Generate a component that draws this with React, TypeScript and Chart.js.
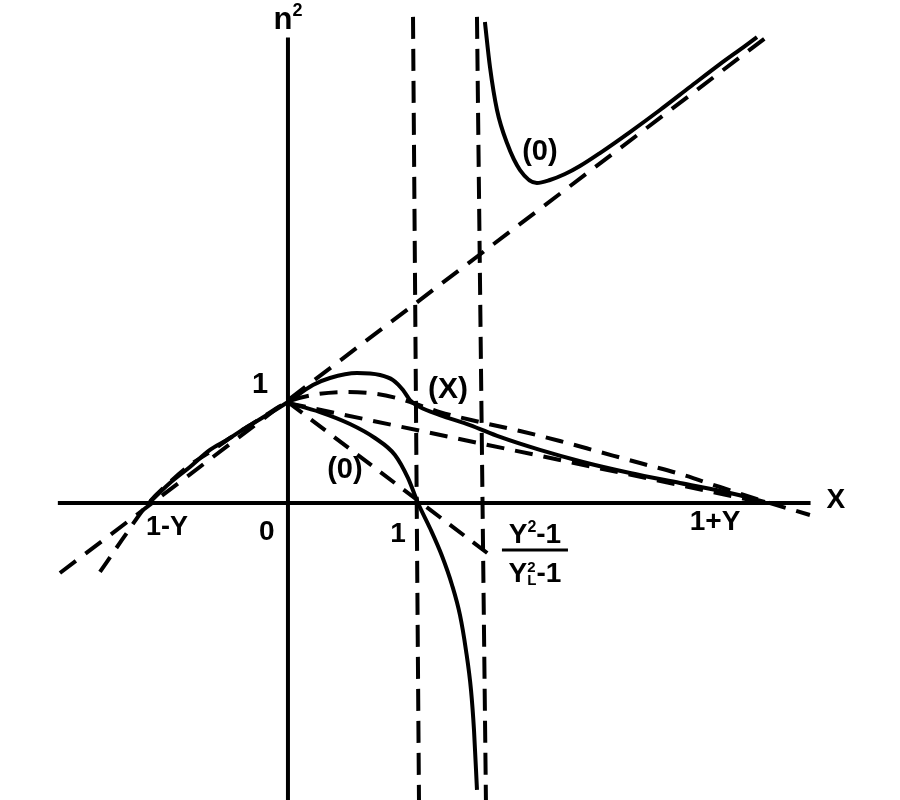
import { useEffect, useRef } from 'react';
import Chart from 'chart.js/auto';

// visible window in X and n² units
const xRange = [-2.215, 4.708];
const yRange = [-2.884, 4.884];

// axes
const horizAxisX = [-1.77, 4.02];
const horizAxisY = [0, 0];
const vertAxisX = [0, 0];
const vertAxisY = [4.52, -2.9];

// resonance / cut-off verticals
const res1X = [0.962, 1.008];
const res1Y = [4.72, -2.9];
const res2X = [1.454, 1.523];
const res2Y = [4.72, -2.9];

// straight dashed guides
const asymX = [-1.754, 3.692];
const asymY = [-0.68, 4.534];
const tangX = [0, 1.6];
const tangY = [0.98, -0.55];
const chordX = [0, 3.67];
const chordY = [0.97, 0.0];

// (X) mode, solid
const modeXX = [-1.085, -0.908, -0.754, -0.6, -0.469, -0.315, -0.162, 0, 0.192, 0.323, 0.531, 0.708, 0.808, 0.885, 0.938, 1.015, 1.169, 1.4, 1.631, 1.938, 2.269, 2.631, 3.015, 3.4, 3.669];
const modeXN2 = [-0.019, 0.194, 0.35, 0.515, 0.612, 0.738, 0.854, 0.981, 1.146, 1.214, 1.262, 1.243, 1.194, 1.097, 1.0, 0.932, 0.854, 0.757, 0.641, 0.515, 0.398, 0.291, 0.194, 0.097, 0.01];

// dashed companion curve
const dashModeX = [-1.446, -1.277, -1.085, -0.908, -0.754, -0.6, -0.446, -0.215, 0, 0.192, 0.454, 0.685, 0.838, 0.962, 1.169, 1.477, 1.785, 2.092, 2.4, 2.708, 3.015, 3.323, 3.631, 4.015];
const dashModeN2 = [-0.67, -0.359, -0.019, 0.204, 0.369, 0.495, 0.631, 0.816, 0.981, 1.049, 1.078, 1.058, 1.019, 0.971, 0.883, 0.786, 0.699, 0.602, 0.495, 0.388, 0.282, 0.155, 0.029, -0.117];

// (O) mode, lower branch
const modeOLowX = [0, 0.246, 0.477, 0.669, 0.823, 0.923, 1.0, 1.092, 1.185, 1.262, 1.323, 1.369, 1.408, 1.431, 1.454];
const modeOLowN2 = [0.971, 0.883, 0.767, 0.631, 0.466, 0.243, 0.0, -0.243, -0.515, -0.796, -1.087, -1.427, -1.816, -2.204, -2.786];

// (O) mode, upper branch
const modeOHighX = [1.515, 1.554, 1.608, 1.685, 1.785, 1.915, 2.015, 2.131, 2.246, 2.4, 2.631, 2.862, 3.092, 3.323, 3.515, 3.608];
const modeOHighN2 = [4.67, 4.233, 3.816, 3.495, 3.233, 3.107, 3.136, 3.194, 3.272, 3.398, 3.602, 3.816, 4.039, 4.262, 4.437, 4.524];

const FONT = '"Liberation Sans", Arial, sans-serif';

type Run = { t: string; size: number; dy: number; under?: { t: string; size: number; dy: number } };

const labels: { runs: Run[]; x: number; y: number }[] = [
  { runs: [{ t: 'n', size: 31, dy: 0 }, { t: '2', size: 18, dy: -9 }], x: 0, y: 4.69 },
  { runs: [{ t: '1', size: 29, dy: 0 }], x: -0.215, y: 1.146 },
  { runs: [{ t: '1-Y', size: 27, dy: 0 }], x: -0.931, y: -0.243 },
  { runs: [{ t: '0', size: 28, dy: 0 }], x: -0.162, y: -0.282 },
  { runs: [{ t: '(0)', size: 29, dy: 0 }], x: 0.438, y: 0.32 },
  { runs: [{ t: '1', size: 28, dy: 0 }], x: 0.846, y: -0.301 },
  { runs: [{ t: '(X)', size: 30, dy: 0 }], x: 1.231, y: 1.097 },
  { runs: [{ t: '1+Y', size: 28, dy: 0 }], x: 3.285, y: -0.184 },
  { runs: [{ t: 'X', size: 28, dy: 0 }], x: 4.215, y: 0.029 },
  { runs: [{ t: '(0)', size: 29, dy: 0 }], x: 1.938, y: 3.408 },
  {
    runs: [{ t: 'Y', size: 28, dy: 0 }, { t: '2', size: 16, dy: -7 }, { t: '-1', size: 28, dy: 0 }],
    x: 1.9,
    y: -0.311,
  },
  {
    runs: [
      { t: 'Y', size: 28, dy: 0 },
      { t: '2', size: 15, dy: -6, under: { t: 'L', size: 15, dy: 7 } },
      { t: '-1', size: 28, dy: 0 },
    ],
    x: 1.9,
    y: -0.689,
  },
];

// fraction bar
const barX = [1.646, 2.154];
const barY = [-0.456, -0.456];

const pts = (xs: number[], ys: number[]) => xs.map((x, i) => ({ x, y: ys[i] }));

const solid = (xs: number[], ys: number[], curved = false) => ({
  data: pts(xs, ys),
  borderColor: '#000',
  borderWidth: 4,
  pointRadius: 0,
  showLine: true,
  cubicInterpolationMode: curved ? ('monotone' as const) : ('default' as const),
  tension: 0,
});

const dashed = (xs: number[], ys: number[], dash: number[], curved = false) => ({
  ...solid(xs, ys, curved),
  borderDash: dash,
});

const labelPlugin = {
  id: 'textLabels',
  afterDatasetsDraw(chart: any) {
    const { ctx, scales } = chart;
    ctx.save();
    ctx.fillStyle = '#000';
    ctx.textBaseline = 'middle';
    ctx.textAlign = 'left';
    for (const l of labels) {
      const cx = scales.x.getPixelForValue(l.x);
      const cy = scales.y.getPixelForValue(l.y);
      const widths = l.runs.map((r) => {
        ctx.font = `bold ${r.size}px ${FONT}`;
        let w = ctx.measureText(r.t).width;
        if (r.under) {
          ctx.font = `bold ${r.under.size}px ${FONT}`;
          w = Math.max(w, ctx.measureText(r.under.t).width);
        }
        return w;
      });
      let px = cx - widths.reduce((a, b) => a + b, 0) / 2;
      l.runs.forEach((r, i) => {
        ctx.font = `bold ${r.size}px ${FONT}`;
        ctx.fillText(r.t, px, cy + r.dy);
        if (r.under) {
          ctx.font = `bold ${r.under.size}px ${FONT}`;
          ctx.fillText(r.under.t, px, cy + r.under.dy);
        }
        px += widths[i];
      });
    }
    ctx.restore();
  },
};

function DispersionChart() {
  const canvasRef = useRef<HTMLCanvasElement>(null);
  const chartRef = useRef<Chart | null>(null);

  useEffect(() => {
    document.body.style.margin = '0';
    if (!canvasRef.current) return;
    const ctx = canvasRef.current.getContext('2d');
    if (!ctx) return;
    if (chartRef.current) chartRef.current.destroy();

    chartRef.current = new Chart(ctx, {
      type: 'scatter',
      data: {
        datasets: [
          solid(horizAxisX, horizAxisY),
          solid(vertAxisX, vertAxisY),
          dashed(res1X, res1Y, [22, 10]),
          dashed(res2X, res2Y, [22, 10]),
          dashed(asymX, asymY, [20, 12]),
          dashed(tangX, tangY, [18, 11]),
          dashed(chordX, chordY, [18, 11]),
          dashed(dashModeX, dashModeN2, [18, 11], true),
          solid(modeXX, modeXN2, true),
          solid(modeOLowX, modeOLowN2, true),
          solid(modeOHighX, modeOHighN2, true),
          { ...solid(barX, barY), borderWidth: 3 },
        ] as any,
      },
      options: {
        responsive: false,
        animation: false,
        devicePixelRatio: 1,
        layout: { padding: 0 },
        plugins: { legend: { display: false }, tooltip: { enabled: false } },
        scales: {
          x: { type: 'linear', min: xRange[0], max: xRange[1], display: false },
          y: { type: 'linear', min: yRange[0], max: yRange[1], display: false },
        },
      },
      plugins: [labelPlugin],
    });

    return () => {
      if (chartRef.current) {
        chartRef.current.destroy();
        chartRef.current = null;
      }
    };
  }, []);

  return <canvas ref={canvasRef} width={900} height={800} style={{ display: 'block' }} />;
}

export default function App() {
  return <DispersionChart />;
}
